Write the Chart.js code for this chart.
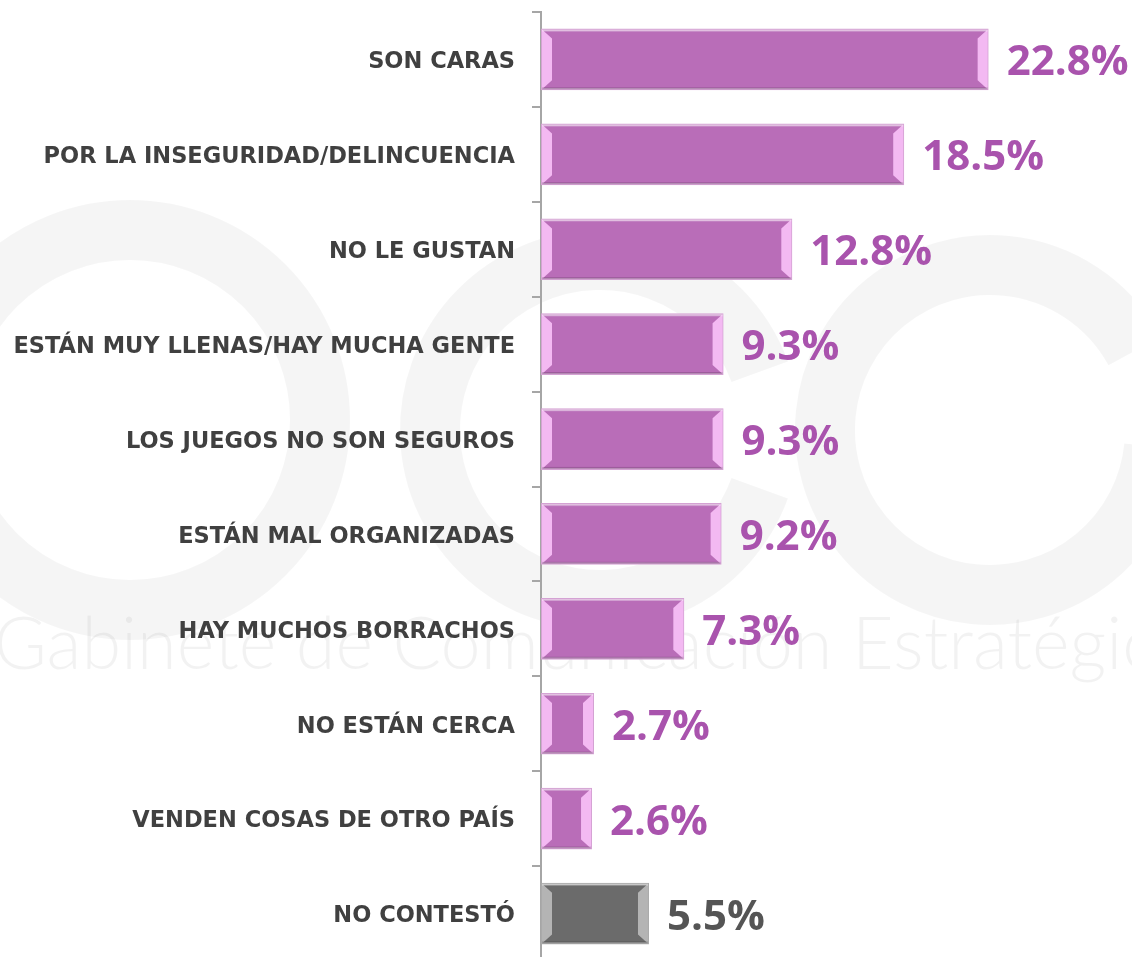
<!DOCTYPE html>
<html>
<head>
<meta charset="utf-8">
<script src="https://cdn.jsdelivr.net/npm/chart.js@4.4.1/dist/chart.umd.min.js"></script>
<style>
html,body{margin:0;padding:0;background:#fff;overflow:hidden;}
#wrap{position:relative;width:1132px;height:961px;}
</style>
</head>
<body>
<div id="wrap"><canvas id="c"></canvas></div>
<script>
const categories = [
  "SON CARAS",
  "POR LA INSEGURIDAD/DELINCUENCIA",
  "NO LE GUSTAN",
  "ESTÁN MUY LLENAS/HAY MUCHA GENTE",
  "LOS JUEGOS NO SON SEGUROS",
  "ESTÁN MAL ORGANIZADAS",
  "HAY MUCHOS BORRACHOS",
  "NO ESTÁN CERCA",
  "VENDEN COSAS DE OTRO PAÍS",
  "NO CONTESTÓ"
];
const values = [22.8, 18.5, 12.8, 9.3, 9.3, 9.2, 7.3, 2.7, 2.6, 5.5];
const valueLabels = ["22.8%", "18.5%", "12.8%", "9.3%", "9.3%", "9.2%", "7.3%", "2.7%", "2.6%", "5.5%"];
const isNoAnswer = [false, false, false, false, false, false, false, false, false, true];

const PURPLE = '#B96DB8', PURPLE_BORDER = '#D4A2D3', PURPLE_LIGHT = '#F3B9F2', PURPLE_TEXT = '#A953AD';
const GRAY = '#6B6B6B', GRAY_BORDER = '#AAAAAA', GRAY_LIGHT = '#B4B4B4', GRAY_TEXT = '#555555';

const watermark = {
  id: 'watermark',
  beforeDraw(chart) {
    const ctx = chart.ctx;
    ctx.save();
    ctx.strokeStyle = 'rgba(0,0,0,0.04)';
    ctx.lineWidth = 60;
    ctx.beginPath(); ctx.arc(130, 420, 190, 0, Math.PI * 2); ctx.stroke();
    ctx.beginPath(); ctx.arc(600, 430, 170, 0.35, Math.PI * 2 - 0.35); ctx.stroke();
    ctx.beginPath(); ctx.arc(990, 430, 165, 0.1, Math.PI * 2 - 0.5); ctx.stroke();
    ctx.fillStyle = 'rgba(0,0,0,0.05)';
    ctx.font = '300 72px Lato';
    ctx.textBaseline = 'middle';
    ctx.textAlign = 'left';
    ctx.fillText('Gabinete de Comunicación Estratégica', -6, 646);
    ctx.restore();
  }
};

const bevel = {
  id: 'bevel',
  afterDatasetsDraw(chart) {
    const ctx = chart.ctx;
    const meta = chart.getDatasetMeta(0);
    meta.data.forEach((bar, i) => {
      const p = bar.getProps(['x', 'y', 'base', 'height'], true);
      const top = p.y - p.height / 2, bot = p.y + p.height / 2;
      const l = p.base + 1, r = p.x - 1;
      const d = Math.min(10, (r - l) / 4);
      const light = isNoAnswer[i] ? GRAY_LIGHT : PURPLE_LIGHT;
      ctx.save();
      ctx.fillStyle = light;
      ctx.beginPath();
      ctx.moveTo(l, top + 1); ctx.lineTo(l + d, top + d); ctx.lineTo(l + d, bot - d); ctx.lineTo(l, bot - 1); ctx.closePath();
      ctx.fill();
      ctx.beginPath();
      ctx.moveTo(r, top + 1); ctx.lineTo(r - d, top + d); ctx.lineTo(r - d, bot - d); ctx.lineTo(r, bot - 1); ctx.closePath();
      ctx.fill();
      ctx.globalAlpha = 0.35;
      ctx.fillStyle = '#ffffff';
      ctx.fillRect(l, top + 1, r - l, 2);
      ctx.globalAlpha = 0.15;
      ctx.fillStyle = '#000000';
      ctx.fillRect(l, bot - 3, r - l, 2);
      ctx.restore();

      ctx.save();
      ctx.font = 'bold 42px "Open Sans"';
      ctx.fillStyle = isNoAnswer[i] ? GRAY_TEXT : PURPLE_TEXT;
      ctx.textBaseline = 'middle';
      ctx.textAlign = 'left';
      ctx.fillText(valueLabels[i], p.x + 18, p.y + 4);
      ctx.restore();
    });
  }
};

new Chart(document.getElementById('c'), {
  type: 'bar',
  data: {
    labels: categories,
    datasets: [{
      data: values,
      backgroundColor: isNoAnswer.map(n => n ? GRAY : PURPLE),
      borderColor: isNoAnswer.map(n => n ? GRAY_BORDER : PURPLE_BORDER),
      borderWidth: 2,
      borderSkipped: false,
      barPercentage: 0.65,
      categoryPercentage: 1.0
    }]
  },
  options: {
    indexAxis: 'y',
    responsive: true,
    maintainAspectRatio: false,
    animation: false,
    layout: { padding: { left: 0, right: 2, top: 12, bottom: 0 } },
    plugins: { legend: { display: false }, tooltip: { enabled: false } },
    scales: {
      x: { display: false, min: 0, max: 30 },
      y: {
        afterFit(scale) { scale.width = 541; scale.paddingTop = 0; scale.paddingBottom = 0; },
        border: { display: true, color: '#A6A6A6', width: 2 },
        grid: { offset: true, drawOnChartArea: false, drawTicks: true, tickLength: 9, color: '#A6A6A6', lineWidth: 2 },
        ticks: { padding: 17, labelOffset: 3, color: '#404040', font: { family: '"DejaVu Sans"', weight: 'bold', size: 22.5 } }
      }
    }
  },
  plugins: [watermark, bevel]
});
</script>
</body>
</html>
